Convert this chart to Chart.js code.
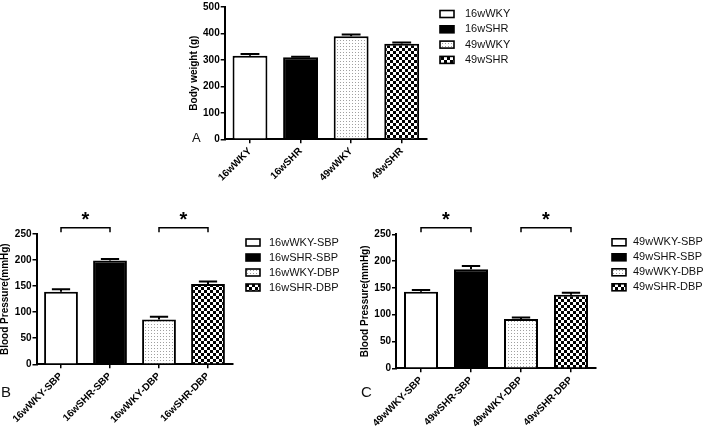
<!DOCTYPE html>
<html><head><meta charset="utf-8">
<script src="https://cdn.jsdelivr.net/npm/chart.js@4/dist/chart.umd.min.js"></script>
<style>
html,body{margin:0;padding:0;background:#fff;width:705px;height:429px;overflow:hidden}
.p{position:absolute}
</style></head><body>
<div class="p" style="left:0;top:0;width:705px;height:200px"><canvas id="cA"></canvas></div>
<div class="p" style="left:0;top:200px;width:360px;height:229px"><canvas id="cB"></canvas></div>
<div class="p" style="left:360px;top:200px;width:345px;height:229px"><canvas id="cC"></canvas></div>
<script>
// ---- data ----
const catsA = ['16wWKY', '16wSHR', '49wWKY', '49wSHR'];
const weightA = [316, 310, 389, 361];
const weightErrA = [6, 2, 7, 5];
const ticksA = [0, 100, 200, 300, 400, 500];

const catsB = ['16wWKY-SBP', '16wSHR-SBP', '16wWKY-DBP', '16wSHR-DBP'];
const bpB = [139, 199, 86, 154];
const bpErrB = [5, 3, 5, 5];

const catsC = ['49wWKY-SBP', '49wSHR-SBP', '49wWKY-DBP', '49wSHR-DBP'];
const bpC = [143, 185, 92, 137];
const bpErrC = [3, 6, 3, 4];

const bpTicks = [0, 50, 100, 150, 200, 250];
const sigPairs = [[0, 1], [2, 3]];
const sigLevel = 262;
const sigMark = '*';

const F = "'Liberation Sans', Arial, Helvetica, sans-serif";

function makeFill(kind) {
  if (kind === 'white') return '#ffffff';
  if (kind === 'black') return '#000000';
  const c = document.createElement('canvas');
  const g = c.getContext('2d');
  if (kind === 'dots') {
    c.width = 3; c.height = 3;
    g.fillStyle = '#ffffff'; g.fillRect(0, 0, 3, 3);
    g.fillStyle = '#a0a0a0'; g.fillRect(1, 1, 1, 1);
  } else {
    c.width = 6; c.height = 6;
    g.fillStyle = '#ffffff'; g.fillRect(0, 0, 6, 6);
    g.fillStyle = '#000000'; g.fillRect(0, 0, 3, 3); g.fillRect(3, 3, 3, 3);
  }
  return g.createPattern(c, 'repeat');
}
const fills = ['white', 'black', 'dots', 'check'].map(makeFill);

const extras = {
  id: 'extras',
  afterDatasetsDraw(chart) {
    const o = chart.options.plugins.extras;
    const ctx = chart.ctx;
    const meta = chart.getDatasetMeta(0);
    const y = chart.scales.y;
    const vals = chart.data.datasets[0].data;
    ctx.save();
    ctx.strokeStyle = '#000';
    ctx.lineWidth = 2;
    // error bars (upper)
    meta.data.forEach((bar, i) => {
      const top = y.getPixelForValue(vals[i]);
      const cap = y.getPixelForValue(vals[i] + o.err[i]);
      const hw = bar.width * 0.27;
      ctx.beginPath();
      ctx.moveTo(bar.x, top); ctx.lineTo(bar.x, cap);
      ctx.moveTo(bar.x - hw, cap); ctx.lineTo(bar.x + hw, cap);
      ctx.stroke();
    });
    // significance brackets
    if (o.sig) {
      ctx.lineWidth = 1.5;
      const ly = y.getPixelForValue(sigLevel);
      sigPairs.forEach(([a, b]) => {
        const xa = meta.data[a].x, xb = meta.data[b].x;
        ctx.beginPath();
        ctx.moveTo(xa, ly + 4.5); ctx.lineTo(xa, ly); ctx.lineTo(xb, ly); ctx.lineTo(xb, ly + 4.5);
        ctx.stroke();
        ctx.fillStyle = '#000';
        ctx.font = 'bold 20px ' + F;
        ctx.textAlign = 'center';
        ctx.textBaseline = 'top';
        ctx.fillText(sigMark, (xa + xb) / 2, ly - 17);
      });
    }
    // legend
    const L = o.legend;
    chart.data.labels.forEach((lab, i) => {
      const cy = L.y + i * L.step;
      ctx.fillStyle = fills[i];
      ctx.fillRect(L.x, cy - 3.5, 14, 7);
      ctx.lineWidth = 1.6;
      ctx.strokeRect(L.x, cy - 3.5, 14, 7);
      ctx.fillStyle = '#111';
      ctx.font = '11px ' + F;
      ctx.textAlign = 'left';
      ctx.textBaseline = 'middle';
      ctx.fillText(lab, L.tx, cy);
    });
    // panel letter
    ctx.fillStyle = '#111';
    ctx.font = o.letter.size + 'px ' + F;
    ctx.textAlign = 'left';
    ctx.textBaseline = 'alphabetic';
    ctx.fillText(o.letter.t, o.letter.x, o.letter.y);
    ctx.restore();
  }
};

function build(id, c) {
  return new Chart(document.getElementById(id), {
    type: 'bar',
    data: {
      labels: c.labels,
      datasets: [{
        data: c.values,
        backgroundColor: fills,
        borderColor: '#000',
        borderWidth: 2,
        barPercentage: c.bp,
        categoryPercentage: 1
      }]
    },
    options: {
      responsive: true,
      maintainAspectRatio: false,
      animation: false,
      layout: { padding: c.pad },
      plugins: {
        legend: { display: false },
        tooltip: { enabled: false },
        extras: { err: c.err, sig: c.sig, legend: c.legend, letter: c.letter }
      },
      scales: {
        x: {
          offset: true,
          grid: { display: true, drawOnChartArea: false, offset: false, tickLength: 4, color: '#000', lineWidth: 1.5 },
          border: { display: true, color: '#000', width: 2 },
          ticks: { autoSkip: false, minRotation: 45, maxRotation: 45, color: '#000', padding: 2,
                   font: { family: F, size: 10, weight: 'bold' } },
          afterFit: s => { s.height = c.xh; }
        },
        y: {
          min: 0, max: c.ticks[c.ticks.length - 1],
          afterBuildTicks: s => { s.ticks = c.ticks.map(v => ({ value: v })); },
          grid: { display: true, drawOnChartArea: false, tickLength: 4, color: '#000', lineWidth: 1.5 },
          border: { display: true, color: '#000', width: 2 },
          ticks: { color: '#000', padding: 1, font: { family: F, size: 10, weight: 'bold' } },
          title: { display: true, text: c.ytitle, color: '#000', padding: 0,
                   font: { family: F, size: 10, weight: 'bold', lineHeight: 1 } },
          afterFit: s => { s.width = c.yw; }
        }
      }
    },
    plugins: [extras]
  });
}

build('cA', {
  labels: catsA, values: weightA, err: weightErrA, ticks: ticksA, sig: false, bp: 0.69,
  ytitle: 'Body weight (g)',
  pad: { left: 189.5, top: 5, right: 278, bottom: 0 }, yw: 35.2, xh: 60.7,
  legend: { x: 440, tx: 465, y: 14, step: 15.3 },
  letter: { t: 'A', x: 192, y: 142, size: 13 }
});
build('cB', {
  labels: catsB, values: bpB, err: bpErrB, ticks: bpTicks, sig: true, bp: 0.69,
  ytitle: 'Blood Pressure(mmHg)',
  pad: { left: 0, top: 34, right: 127.5, bottom: 0 }, yw: 36.5, xh: 64.7,
  legend: { x: 246, tx: 269, y: 42.5, step: 15 },
  letter: { t: 'B', x: 1, y: 197, size: 15 }
});
build('cC', {
  labels: catsC, values: bpC, err: bpErrC, ticks: bpTicks, sig: true, bp: 0.68,
  ytitle: 'Blood Pressure(mmHg)',
  pad: { left: 0, top: 34.3, right: 109, bottom: 0 }, yw: 36, xh: 60.7,
  legend: { x: 252, tx: 273, y: 42.3, step: 15 },
  letter: { t: 'C', x: 1, y: 197, size: 15 }
});
</script>
</body></html>
